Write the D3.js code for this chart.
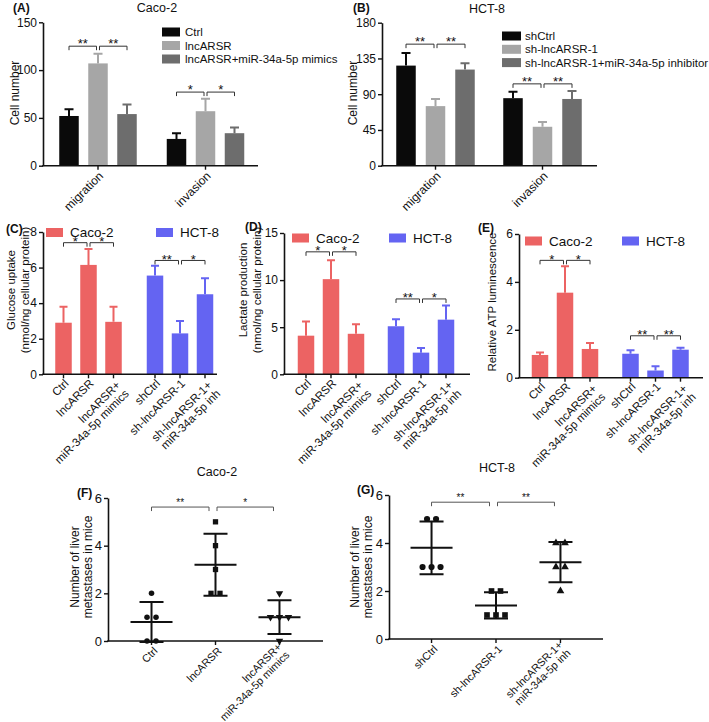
<!DOCTYPE html>
<html><head><meta charset="utf-8">
<script src="https://cdn.jsdelivr.net/npm/d3@7"></script>
<style>body{margin:0;background:#fff}svg{display:block}</style>
</head><body>
<svg id="chart" width="709" height="722"></svg>
<script>
// ---------------- DATA ----------------
// Panel A (Caco-2 migration/invasion)
const assayGroups = ["migration", "invasion"];
const aSeries = ["Ctrl", "lncARSR", "lncARSR+miR-34a-5p mimics"];
const aValues = [[52, 107, 54], [28, 57, 34]];
const aErrors = [[7, 10, 10], [6, 13, 6]];
const aTicks = [0, 50, 100, 150];
const aSig = [["migration", 0, 1, 125, "**"], ["migration", 1, 2, 125, "**"], ["invasion", 0, 1, 77, "*"], ["invasion", 1, 2, 77, "*"]];
// Panel B (HCT-8 migration/invasion)
const bSeries = ["shCtrl", "sh-lncARSR-1", "sh-lncARSR-1+miR-34a-5p inhibitor"];
const bValues = [[126, 75, 121], [85, 49, 84]];
const bErrors = [[16, 9, 8], [8, 6, 10]];
const bTicks = [0, 45, 90, 135, 180];
const bSig = [["migration", 0, 1, 153, "**"], ["migration", 1, 2, 153, "**"], ["invasion", 0, 1, 103, "**"], ["invasion", 1, 2, 103, "**"]];
// Panels C-E (metabolism)
const cellLines = ["Caco-2", "HCT-8"];
const cacoCats = ["Ctrl", "lncARSR", "lncARSR+\nmiR-34a-5p mimics"];
const hctCats = ["shCtrl", "sh-lncARSR-1", "sh-lncARSR-1+\nmiR-34a-5p inh"];
const glucoseValues = [[2.9, 6.15, 2.95], [5.55, 2.3, 4.5]];
const glucoseErrors = [[0.9, 0.9, 0.85], [0.55, 0.7, 0.9]];
const glucoseTicks = [0, 2, 4, 6, 8];
const glucoseSig = [["Caco-2", 0, 1, 7.4, "*"], ["Caco-2", 1, 2, 7.4, "*"], ["HCT-8", 0, 1, 6.4, "**"], ["HCT-8", 1, 2, 6.4, "*"]];
const lactateValues = [[4.1, 10.1, 4.3], [5.1, 2.3, 5.8]];
const lactateErrors = [[1.5, 2.0, 1.0], [0.75, 0.5, 1.5]];
const lactateTicks = [0, 5, 10, 15];
const lactateSig = [["Caco-2", 0, 1, 13, "*"], ["Caco-2", 1, 2, 13, "*"], ["HCT-8", 0, 1, 8, "**"], ["HCT-8", 1, 2, 8, "*"]];
const atpValues = [[0.95, 3.55, 1.2], [1.0, 0.3, 1.17]];
const atpErrors = [[0.1, 1.1, 0.25], [0.15, 0.18, 0.08]];
const atpTicks = [0, 2, 4, 6];
const atpSig = [["Caco-2", 0, 1, 4.9, "*"], ["Caco-2", 1, 2, 4.9, "*"], ["HCT-8", 0, 1, 1.75, "**"], ["HCT-8", 1, 2, 1.75, "**"]];
// Panels F-G (liver metastases, individual mice)
const fCats = ["Ctrl", "lncARSR", "lncARSR+\nmiR-34a-5p mimics"];
const fPoints = [[2, 1, 1, 0, 0], [5, 4, 3, 2, 2], [2, 1, 1, 1, 0]];
const fMeans = [0.8, 3.2, 1.0];
const fSD = [0.84, 1.3, 0.71];
const fSig = [[0, 1, 5.62, "**"], [1, 2, 5.62, "*"]];
const gCats = ["shCtrl", "sh-lncARSR-1", "sh-lncARSR-1+\nmiR-34a-5p inh"];
const gPoints = [[5, 5, 3, 3, 3], [2, 2, 1, 1, 1], [4, 4, 3, 3, 2]];
const gMeans = [3.8, 1.4, 3.2];
const gSD = [1.1, 0.55, 0.84];
const gSig = [[0, 1, 5.7, "**"], [1, 2, 5.7, "**"]];
const dotTicks = [0, 2, 4, 6];

// ---------------- DRAWING ----------------
const FONT = '"Liberation Sans", Arial, Helvetica, sans-serif';
const svg = d3.select("#chart");
const BLACK = "#0a0a0a", LGRAY = "#a6a6a6", DGRAY = "#6d6d6d";
const RED = "#ec6363", BLUE = "#6464f2";

function txt(g, x, y, s, fs, opts = {}) {
  return g.append("text").attr("x", x).attr("y", y).attr("font-family", FONT)
    .attr("font-size", fs).attr("fill", opts.fill || "#111")
    .attr("font-weight", opts.bold ? "bold" : null)
    .attr("text-anchor", opts.anchor || "start")
    .attr("dy", opts.dy || "0.35em").text(s);
}
function vLabel(g, x, y, lines, fs, lh) {
  const t = g.append("text").attr("transform", `translate(${x},${y}) rotate(-90)`)
    .attr("font-family", FONT).attr("font-size", fs).attr("fill", "#111").attr("text-anchor", "middle");
  lines.forEach((ln, i) => t.append("tspan").attr("x", 0).attr("y", (i - (lines.length - 1) / 2) * lh).attr("dy", "0.35em").text(ln));
}
function rotLabel(g, x, y, s, fs, shift) {
  const lines = s.split("\n");
  const t = g.append("text").attr("transform", `translate(${x},${y}) rotate(-45)`)
    .attr("font-family", FONT).attr("font-size", fs).attr("fill", "#111").attr("text-anchor", "end");
  lines.forEach((ln, i) => t.append("tspan").attr("x", 0)
    .attr("y", (i + (lines.length - 1) * shift) * fs * 1.05).attr("dy", "0.35em").text(ln));
}
function yAxis(g, y, x0, ticks, fs) {
  const ax = g.append("g").attr("transform", `translate(${x0},0)`)
    .call(d3.axisLeft(y).tickValues(ticks).tickFormat(d3.format("d")).tickSize(4).tickSizeOuter(0).tickPadding(2));
  ax.select(".domain").attr("stroke", "#111").attr("stroke-width", 1.6);
  ax.selectAll(".tick line").attr("stroke", "#111").attr("stroke-width", 1.4);
  ax.selectAll(".tick text").attr("font-size", fs).attr("font-family", FONT).attr("fill", "#111");
}
function bracket(g, xa, xb, yb, label, fs, gap, color) {
  g.append("path").attr("d", `M${xa},${yb + 4}V${yb}H${xb}V${yb + 4}`)
    .attr("fill", "none").attr("stroke", color).attr("stroke-width", 1);
  g.append("text").attr("x", (xa + xb) / 2).attr("y", yb - gap + 0.6 * fs)
    .attr("text-anchor", "middle").attr("font-family", FONT).attr("font-size", fs)
    .attr("fill", "#111").text(label);
}

function barPanel(o) {
  const g = svg.append("g");
  const y = d3.scaleLinear().domain([0, o.yMax]).range([o.yBot, o.yTop]);
  const n = o.groups.length, k = o.values[0].length;
  const xg = d3.scaleBand().domain(o.groups).range([o.gc0 - o.gStep / 2, o.gc0 + o.gStep * (n - 0.5)]);
  const p = 1 - o.barW / o.iStep;
  const xi = d3.scaleBand().domain(d3.range(k)).range([-k / 2 * o.iStep, k / 2 * o.iStep]).paddingInner(p).paddingOuter(p / 2);
  const cx = (gi, si) => xg(o.groups[gi]) + xg.bandwidth() / 2 + xi(si) + xi.bandwidth() / 2;
  const bars = [];
  o.groups.forEach((grp, gi) => o.values[gi].forEach((v, si) =>
    bars.push({ gi, si, v, e: o.errors[gi][si], c: o.color(gi, si) })));
  const bw = xi.bandwidth();
  g.selectAll("rect.bar").data(bars).join("rect").attr("class", "bar")
    .attr("x", d => cx(d.gi, d.si) - bw / 2).attr("width", bw)
    .attr("y", d => y(d.v)).attr("height", d => y(0) - y(d.v)).attr("fill", d => d.c);
  g.selectAll("path.err").data(bars).join("path").attr("class", "err")
    .attr("d", d => `M${cx(d.gi, d.si)},${y(d.v)}V${y(d.v + d.e)}M${cx(d.gi, d.si) - o.capW / 2},${y(d.v + d.e)}H${cx(d.gi, d.si) + o.capW / 2}`)
    .attr("stroke", d => d.c).attr("stroke-width", 2).attr("fill", "none");
  yAxis(g, y, o.x0, o.ticks, o.tickFs);
  g.append("line").attr("x1", o.x0 - 0.8).attr("x2", o.x1).attr("y1", o.yBot).attr("y2", o.yBot)
    .attr("stroke", "#111").attr("stroke-width", 1.6);
  const xt = o.perBar
    ? bars.map(d => ({ x: cx(d.gi, d.si), label: o.barLabels[d.gi][d.si] }))
    : o.groups.map((grp, gi) => ({ x: xg(grp) + xg.bandwidth() / 2, label: grp }));
  xt.forEach(t => {
    g.append("line").attr("x1", t.x).attr("x2", t.x).attr("y1", o.yBot).attr("y2", o.yBot + 4)
      .attr("stroke", "#111").attr("stroke-width", 1.4);
    rotLabel(g, t.x + o.lblDx, o.yBot + o.lblDy, t.label, o.lblFs, 0.2);
  });
  o.sig.forEach(([grp, a, b, lvl, lab]) => {
    const gi = o.groups.indexOf(grp);
    const xa = cx(gi, a) + (a === 1 ? 1.5 : 0), xb = cx(gi, b) - (b === 1 ? 1.5 : 0);
    bracket(g, xa, xb, y(lvl), lab, o.starFs, o.starGap, "#333");
  });
  return g;
}

// Panel A
const gA = barPanel({
  groups: assayGroups, values: aValues, errors: aErrors, ticks: aTicks, yMax: 150,
  x0: 43, x1: 258, yTop: 22.3, yBot: 165.7, gc0: 98, gStep: 107.5, iStep: 29, barW: 19.5, capW: 9,
  color: (gi, si) => [BLACK, LGRAY, DGRAY][si], tickFs: 12, lblFs: 12, lblDx: 3, lblDy: 8,
  sig: aSig, starFs: 13, starGap: 6
});
txt(gA, 13, 8, "(A)", 12, { bold: true });
txt(gA, 157, 8, "Caco-2", 12.5, { anchor: "middle" });
vLabel(gA, 15, 93, ["Cell number"], 12, 13);
aSeries.forEach((s, i) => {
  gA.append("rect").attr("x", 162).attr("y", 32 + i * 13.5 - 4.5).attr("width", 18).attr("height", 9).attr("fill", [BLACK, LGRAY, DGRAY][i]);
  txt(gA, 185, 32 + i * 13.5, s, 11.5);
});

// Panel B
const gB = barPanel({
  groups: assayGroups, values: bValues, errors: bErrors, ticks: bTicks, yMax: 180,
  x0: 382, x1: 597, yTop: 22.7, yBot: 165.7, gc0: 435.5, gStep: 107, iStep: 29.5, barW: 19.5, capW: 9,
  color: (gi, si) => [BLACK, LGRAY, DGRAY][si], tickFs: 12, lblFs: 12, lblDx: 3, lblDy: 8,
  sig: bSig, starFs: 13, starGap: 6
});
txt(gB, 353, 8, "(B)", 12, { bold: true });
txt(gB, 487, 9, "HCT-8", 12.5, { anchor: "middle" });
vLabel(gB, 353, 93, ["Cell number"], 12, 13);
bSeries.forEach((s, i) => {
  gB.append("rect").attr("x", 502).attr("y", 36 + i * 13.3 - 4.5).attr("width", 19).attr("height", 9).attr("fill", [BLACK, LGRAY, DGRAY][i]);
  txt(gB, 525, 36 + i * 13.3, s, 11.5);
});

// Panels C-E
function metaPanel(o) {
  const g = barPanel(Object.assign({
    groups: cellLines, perBar: true, barLabels: [cacoCats, hctCats],
    color: (gi) => [RED, BLUE][gi], tickFs: 12, lblFs: 11.5, lblDx: 3, lblDy: 7,
    iStep: 25, barW: 16.5, capW: 8, starFs: 13, starGap: 4.5
  }, o));
  txt(g, o.letterX, o.letterY, o.letter, 12, { bold: true });
  cellLines.forEach((c, i) => {
    g.append("rect").attr("x", o.legX[i]).attr("y", o.legY - 4.5).attr("width", 17).attr("height", 9).attr("fill", [RED, BLUE][i]);
    txt(g, o.legX[i] + 24, o.legY, c, 13.5);
  });
  vLabel(g, o.labX, o.labY, o.yLabel, 11.5, 14.5);
}
metaPanel({ values: glucoseValues, errors: glucoseErrors, ticks: glucoseTicks, yMax: 8, sig: glucoseSig,
  x0: 43, x1: 217, yTop: 232, yBot: 374.3, gc0: 88.5, gStep: 91.5,
  letter: "(C)", letterX: 6, letterY: 229, legX: [46, 156], legY: 232.5,
  labX: 18, labY: 290, yLabel: ["Glucose uptake", "(nmol/ng cellular protein)"] });
metaPanel({ values: lactateValues, errors: lactateErrors, ticks: lactateTicks, yMax: 15, sig: lactateSig,
  x0: 284, x1: 470, yTop: 233, yBot: 374.3, gc0: 331, gStep: 90,
  letter: "(D)", letterX: 245, letterY: 227, legX: [292, 389], legY: 238,
  labX: 250, labY: 290, yLabel: ["Lactate production", "(nmol/ng cellular protein)"] });
metaPanel({ values: atpValues, errors: atpErrors, ticks: atpTicks, yMax: 6, sig: atpSig,
  x0: 519, x1: 703, yTop: 234, yBot: 377.7, gc0: 565, gStep: 90.5,
  letter: "(E)", letterX: 478, letterY: 228, legX: [525, 622], legY: 241,
  labX: 492, labY: 302, yLabel: ["Relative ATP luminescence"] });

// Panels F-G
function dotPanel(o) {
  const g = svg.append("g");
  const y = d3.scaleLinear().domain([0, 6]).range([o.yBot, o.yTop]);
  const x = d3.scalePoint().domain(o.cats).range([o.x0, o.x1]).padding(o.pad);
  o.points.forEach((vals, ci) => {
    const cx = x(o.cats[ci]);
    const counts = d3.rollup(vals, v => v.length, v => v);
    const seen = new Map();
    vals.forEach(v => {
      const nSame = counts.get(v), idx = seen.get(v) || 0; seen.set(v, idx + 1);
      const px = cx + (idx - (nSame - 1) / 2) * 9;
      g.append("path").attr("d", d3.symbol().type(o.shapes[ci]).size(o.sizes[ci])())
        .attr("transform", `translate(${px},${y(v)})${o.flip[ci] ? " rotate(180)" : ""}`).attr("fill", "#111");
    });
    const m = o.means[ci], s = o.sd[ci];
    g.append("path").attr("d", `M${cx - 21},${y(m)}H${cx + 21}M${cx},${y(m - s)}V${y(m + s)}M${cx - 12},${y(m - s)}H${cx + 12}M${cx - 12},${y(m + s)}H${cx + 12}`)
      .attr("stroke", "#111").attr("stroke-width", 2).attr("fill", "none");
  });
  yAxis(g, y, o.x0, dotTicks, 13);
  g.append("line").attr("x1", o.x0 - 0.8).attr("x2", o.x1).attr("y1", o.yBot).attr("y2", o.yBot)
    .attr("stroke", "#111").attr("stroke-width", 1.6);
  o.cats.forEach(c => {
    g.append("line").attr("x1", x(c)).attr("x2", x(c)).attr("y1", o.yBot).attr("y2", o.yBot + 4)
      .attr("stroke", "#111").attr("stroke-width", 1.4);
    rotLabel(g, x(c) + 4, o.yBot + 8, c, 10.8, -0.5);
  });
  o.sig.forEach(([a, b, lvl, lab]) => {
    const xa = x(o.cats[a]) + (a === 1 ? 1.5 : 0), xb = x(o.cats[b]) - (b === 1 ? 6.5 : 6);
    bracket(g, xa, xb, y(lvl), lab, 10, 7, "#555");
  });
  txt(g, o.titleX, o.titleY, o.title, 12.5, { anchor: "middle" });
  txt(g, o.letterX, o.letterY, o.letter, 12, { bold: true });
  vLabel(g, o.labX, 567, ["Number of liver", "metastases  in mice"], 12, 13);
}
dotPanel({ cats: fCats, points: fPoints, means: fMeans, sd: fSD, sig: fSig,
  x0: 108, x1: 323, pad: 0.68, yTop: 498, yBot: 641,
  shapes: [d3.symbolCircle, d3.symbolSquare, d3.symbolTriangle], sizes: [24, 28, 24], flip: [false, false, true],
  title: "Caco-2", titleX: 217, titleY: 472, letter: "(F)", letterX: 77, letterY: 493, labX: 81 });
dotPanel({ cats: gCats, points: gPoints, means: gMeans, sd: gSD, sig: gSig,
  x0: 389, x1: 603, pad: 0.66, yTop: 495, yBot: 639,
  shapes: [d3.symbolCircle, d3.symbolSquare, d3.symbolTriangle], sizes: [30, 32, 26], flip: [false, false, false],
  title: "HCT-8", titleX: 497, titleY: 468, letter: "(G)", letterX: 357, letterY: 490, labX: 361 });
</script>
</body></html>
